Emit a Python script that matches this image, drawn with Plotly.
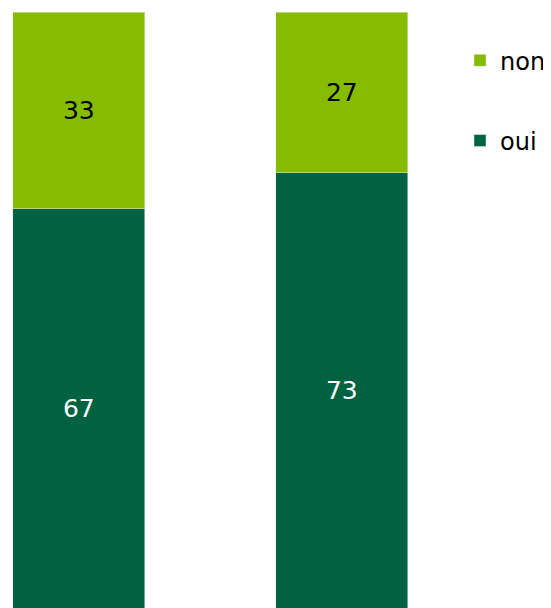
import plotly.graph_objects as go

categories = ["A", "B"]
oui = [67, 73]
non = [33, 27]

fig = go.Figure()
fig.add_trace(go.Bar(x=[0, 1], y=oui, name="oui", marker_color="#006241",
                     text=[str(v) for v in oui], textposition="inside", insidetextanchor="middle",
                     textfont=dict(color="white", size=25, family="DejaVu Sans"),
                     width=0.501, legendgroup="oui", legendrank=2))
fig.add_trace(go.Bar(x=[0, 1], y=non, name="non", marker_color="#86BC00",
                     text=[str(v) for v in non], textposition="inside", insidetextanchor="middle",
                     textfont=dict(color="black", size=25, family="DejaVu Sans"),
                     width=0.501, legendgroup="non", legendrank=1))

fig.update_layout(
    barmode="stack",
    width=543, height=600,
    margin=dict(l=0, r=0, t=4, b=0),
    paper_bgcolor="white", plot_bgcolor="white",
    font=dict(family="DejaVu Sans", size=24, color="black"),
    xaxis=dict(visible=False, range=[-0.2694, 1.7913]),
    yaxis=dict(visible=False, range=[0, 100]),
    showlegend=True,
    legend=dict(x=0.834, xanchor="left", y=0.956, yanchor="top",
                traceorder="grouped", tracegroupgap=46,
                font=dict(size=24, family="DejaVu Sans"), bgcolor="rgba(0,0,0,0)"),
    uniformtext=dict(minsize=10, mode="show"),
)
fig.write_html("out.html")
